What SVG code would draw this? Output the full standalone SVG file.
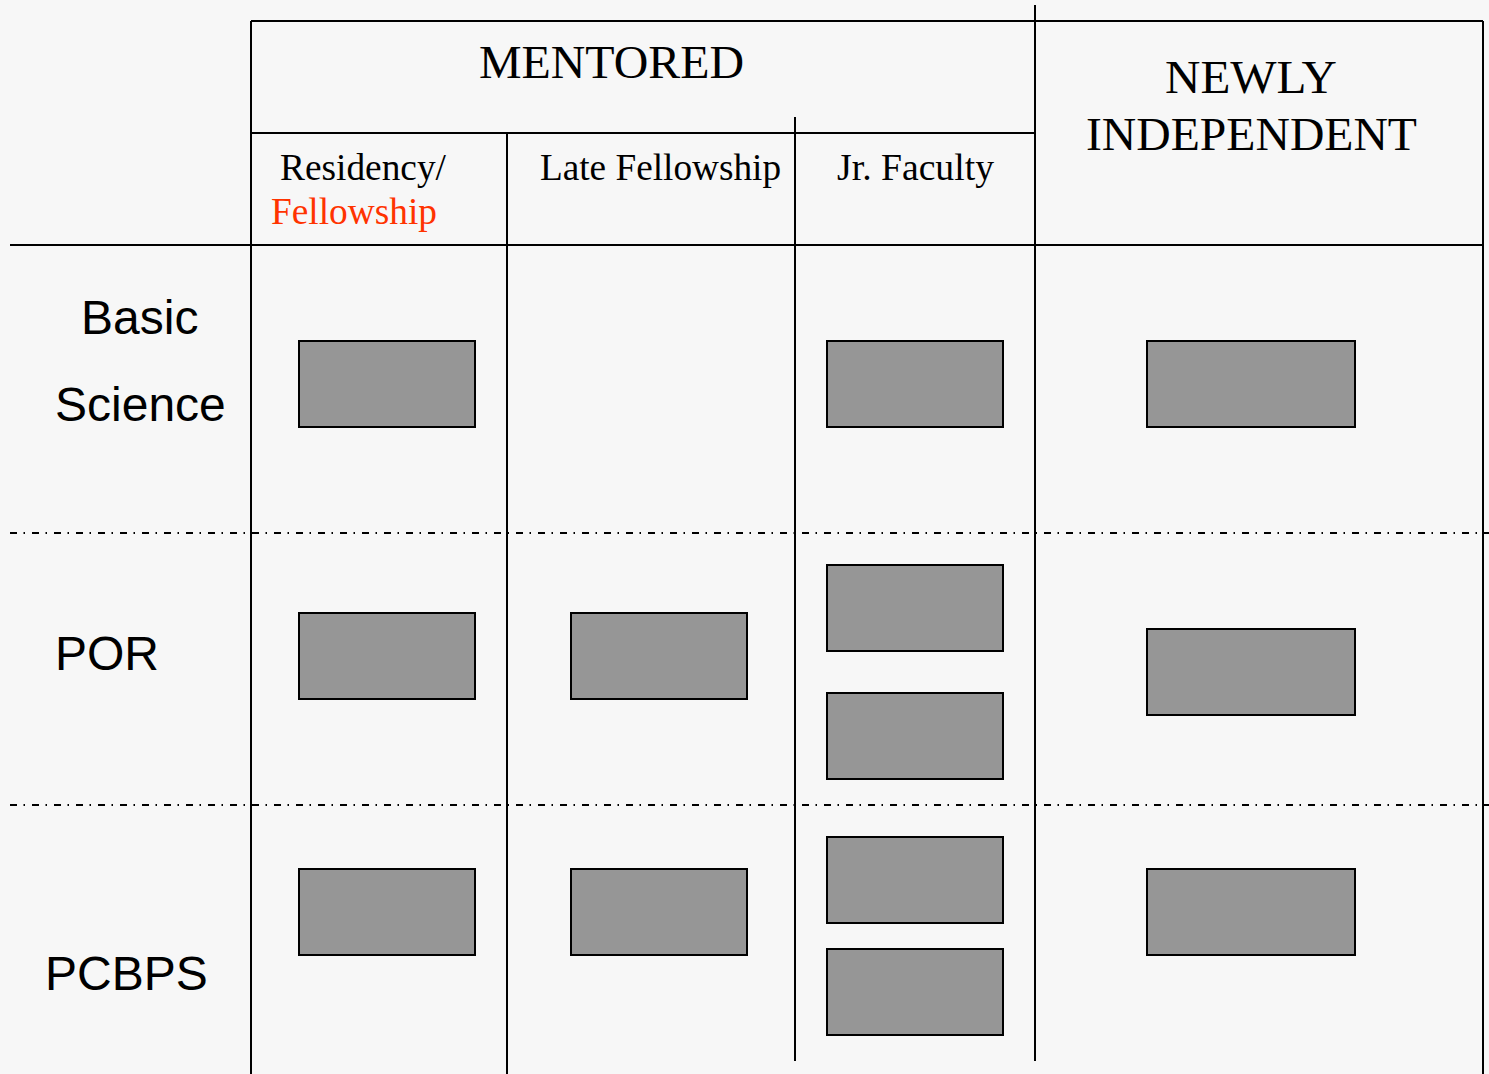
<svg xmlns="http://www.w3.org/2000/svg" width="1489" height="1074" viewBox="0 0 1489 1074">
<style>
.ln{stroke:#000;stroke-width:2;fill:none}
.dash{stroke:#000;stroke-width:2;fill:none;stroke-dasharray:7 6.5 1.5 7}
.box{fill:#969696;stroke:#000;stroke-width:2}
.serif{font-family:"Liberation Serif","Times New Roman",serif;fill:#000}
.sans{font-family:"Liberation Sans",Arial,sans-serif;fill:#000;font-size:48px}
</style>
<rect x="0" y="0" width="1489" height="1074" fill="#f7f7f7"/>
<g id="grid">
<line class="ln" x1="251" y1="21" x2="1483" y2="21"/>
<line class="ln" x1="1035" y1="5" x2="1035" y2="1061"/>
<line class="ln" x1="251" y1="21" x2="251" y2="1074"/>
<line class="ln" x1="507" y1="133" x2="507" y2="1074"/>
<line class="ln" x1="795" y1="117" x2="795" y2="1061"/>
<line class="ln" x1="1483" y1="21" x2="1483" y2="1074"/>
<line class="ln" x1="251" y1="133" x2="1035" y2="133"/>
<line class="ln" x1="10" y1="245" x2="1483" y2="245"/>
<line class="dash" x1="10" y1="533" x2="1489" y2="533"/>
<line class="dash" x1="10" y1="805" x2="1489" y2="805"/>
</g>
<g id="headers">
<text class="serif" x="479" y="78" font-size="47" textLength="265" lengthAdjust="spacingAndGlyphs">MENTORED</text>
<text class="serif" x="1165" y="93" font-size="46" textLength="172" lengthAdjust="spacingAndGlyphs">NEWLY</text>
<text class="serif" x="1086" y="150" font-size="46" textLength="331" lengthAdjust="spacingAndGlyphs">INDEPENDENT</text>
<text class="serif" x="280" y="180" font-size="37" textLength="166" lengthAdjust="spacingAndGlyphs">Residency/</text>
<text class="serif" x="271" y="224" font-size="37" style="fill:#ff3300" textLength="166" lengthAdjust="spacingAndGlyphs">Fellowship</text>
<text class="serif" x="540" y="180" font-size="37" textLength="241" lengthAdjust="spacingAndGlyphs">Late Fellowship</text>
<text class="serif" x="837" y="180" font-size="37" textLength="157" lengthAdjust="spacingAndGlyphs">Jr. Faculty</text>
</g>
<g id="rowlabels">
<text class="sans" x="81" y="334">Basic</text>
<text class="sans" x="55" y="421">Science</text>
<text class="sans" x="55" y="670">POR</text>
<text class="sans" x="45" y="990">PCBPS</text>
</g>
<g id="basic-residency"><rect class="box" x="299" y="341" width="176" height="86"/></g>
<g id="basic-jrfaculty"><rect class="box" x="827" y="341" width="176" height="86"/></g>
<g id="basic-independent"><rect class="box" x="1147" y="341" width="208" height="86"/></g>
<g id="por-residency"><rect class="box" x="299" y="613" width="176" height="86"/></g>
<g id="por-latefellowship"><rect class="box" x="571" y="613" width="176" height="86"/></g>
<g id="por-jrfaculty-1"><rect class="box" x="827" y="565" width="176" height="86"/></g>
<g id="por-jrfaculty-2"><rect class="box" x="827" y="693" width="176" height="86"/></g>
<g id="por-independent"><rect class="box" x="1147" y="629" width="208" height="86"/></g>
<g id="pcbps-residency"><rect class="box" x="299" y="869" width="176" height="86"/></g>
<g id="pcbps-latefellowship"><rect class="box" x="571" y="869" width="176" height="86"/></g>
<g id="pcbps-jrfaculty-1"><rect class="box" x="827" y="837" width="176" height="86"/></g>
<g id="pcbps-jrfaculty-2"><rect class="box" x="827" y="949" width="176" height="86"/></g>
<g id="pcbps-independent"><rect class="box" x="1147" y="869" width="208" height="86"/></g>
<g id="connectors"></g>
</svg>
